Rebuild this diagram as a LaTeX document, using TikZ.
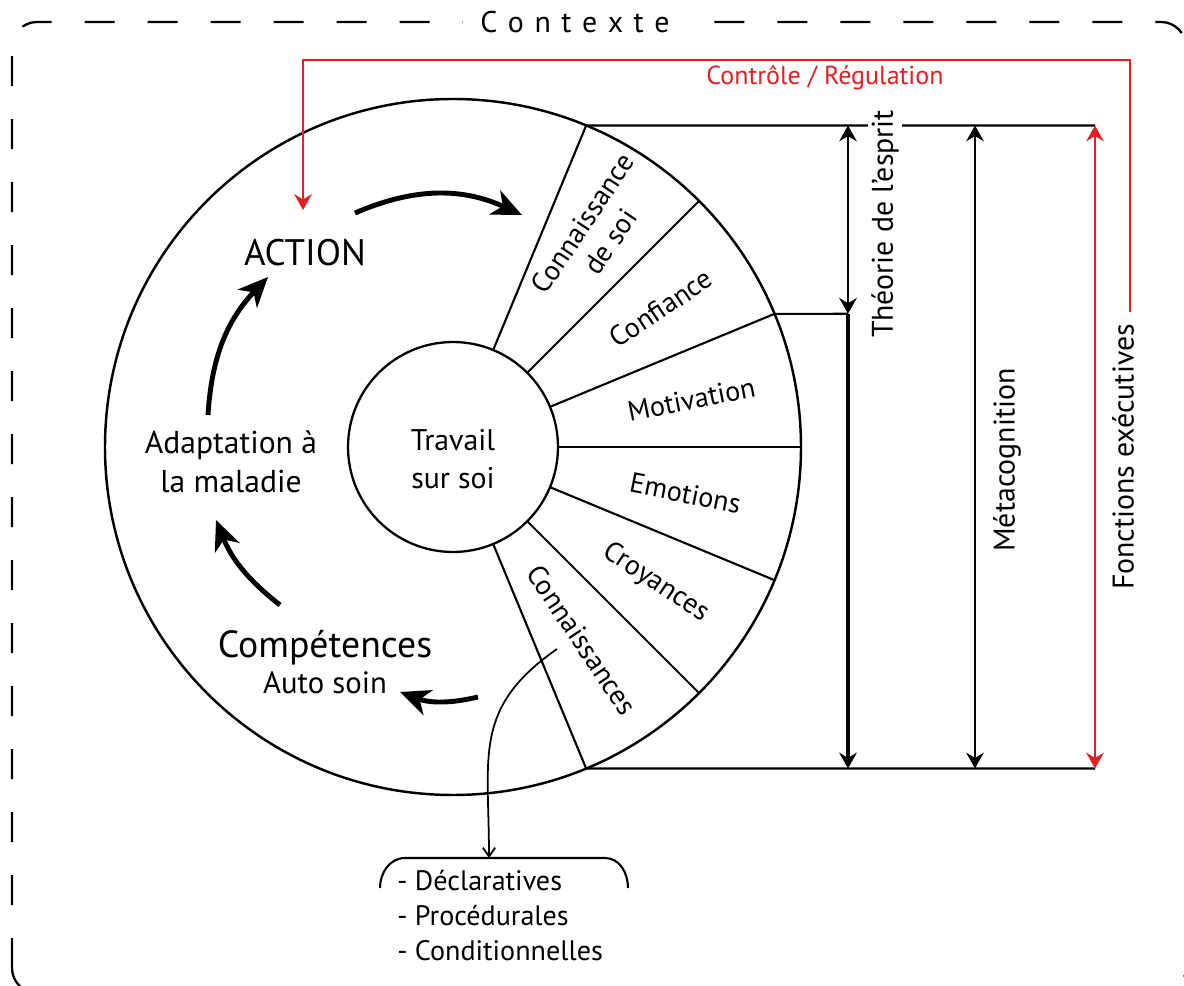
\documentclass[tikz,border=0pt]{standalone}
\usepackage{fontspec}
\setmainfont{PT Sans}
\usetikzlibrary{arrows.meta}
\definecolor{ctlred}{RGB}{227,30,36}

\begin{document}
\begin{tikzpicture}[x=0.02cm, y=0.02cm,
  main/.style = {draw, circle, fill=white, line width=1.3pt, minimum size=4.2cm, inner sep=0pt},
  part/.style = {draw, line width=1.2pt},
  seg/.style = {align=center, font=\fontsize{16}{19}\selectfont},
  side/.style = {rotate=90, fill=white, inner sep=2pt, font=\fontsize{17}{20}\selectfont},
  lbl/.style = {align=center, font=\fontsize{17}{21}\selectfont},
  loop/.style = {line width=2.8pt, -{Stealth[length=17pt,width=15pt,inset=5pt]}},
  both/.style = {line width=1.2pt, {Stealth[length=9pt,width=10pt,inset=3pt]}-{Stealth[length=9pt,width=10pt,inset=3pt]}},
  ctl/.style = {ctlred, line width=1.3pt}]

\useasboundingbox (0,0) rectangle (1184,985);

\draw[line width=1.3pt, dash pattern=on 0.6cm off 0.66cm, rounded corners=0.5cm] (12,-8) rectangle (1186,963);
\node[fill=white, inner xsep=10pt, font=\fontsize{17}{20}\selectfont] (ctx) at (575,963) {C\kern6pt o\kern6pt n\kern6pt t\kern6pt e\kern6pt x\kern6pt t\kern6pt e};

\coordinate (c) at (453,538);
\draw[part, line width=1.4pt] (c) circle (348);
\node[main] (t) at (c) {};
\node[lbl, font=\fontsize{17}{21.5}\selectfont] (trav) at (453,526) {Travail\\sur soi};
\foreach \a in {-67.5,-45,...,67.5}
  \draw[part] ([shift={(\a:105)}]c) -- ([shift={(\a:348)}]c);
\foreach \a/\r/\t [count=\i] in {56.25/258/{Connaissance\\de soi}, 33.75/250/Confiance, 11.25/243/Motivation, -11.25/237/Emotions, -33.75/244/Croyances, -56.25/232/Connaissances}
  \node[seg, rotate=\a] (s\i) at ([shift={(\a:\r)}]c) {\t};

\draw[part] ([shift={(67.5:348)}]c) -- (1095,859.5);
\draw[part] ([shift={(22.5:348)}]c) -- (848,671.2);
\draw[part] ([shift={(-67.5:348)}]c) -- (1095,216.5);
\draw[both] (848,859.5) -- (848,671.2);
\draw[line width=2.3pt, -{Stealth[length=9pt,width=10pt,inset=3pt]}] (848,671.2) -- (848,216.5);
\draw[both] (975,859.5) -- (975,216.5);
\draw[both, ctlred] (1095,859.5) -- (1095,216.5);

\node[side] (tom) at (885,761) {Théorie de l’esprit};
\node[side] (meta) at (1007,525) {Métacognition};
\node[side] (fe) at (1123,528) {Fonctions exécutives};

\node[lbl, font=\fontsize{21}{24}\selectfont] (action) at (305,732) {ACTION};
\node[lbl, font=\fontsize{18}{22}\selectfont] (adapt) at (231,523) {Adaptation à\\la maladie};
\node[lbl, font=\fontsize{21.5}{24}\selectfont] (comp) at (325,337) {Compétences};
\node[lbl, node distance={0.7cm}, font=\fontsize{17.5}{21}\selectfont] (auto) [below of=comp] {Auto soin};

\coordinate (r0) at (1130,673);
\node[ctlred, font=\fontsize{14.8}{17}\selectfont] (reg) at (825,907) {Contrôle / Régulation};
\draw[ctl, -{Stealth[length=9pt,width=10pt,inset=3pt]}] (r0) |- (303,925) -- ([shift={(-2,43)}]action.center);

\coordinate (a1) at (522,770);
\coordinate (a4) at (478,288);
\draw[loop] ([shift={(50,40)}]action.center) to[bend left=24] (a1);
\draw[loop] ([shift={(-23,47)}]adapt.center) to[bend left=20] ([shift={(-37,-24)}]action.center);
\draw[loop] ([shift={(-45,43)}]comp.center) to[bend left=15] ([shift={(-15,-58)}]adapt.center);
\draw[loop] (a4) to[bend left=17] ([shift={(75,-9)}]auto.center);

\node[seg, align=left, anchor=north west, inner sep=0pt, font=\fontsize{16}{19.8}\selectfont] (kinds) at (397,115) {- Déclaratives\\- Procédurales\\- Conditionnelles};
\draw[part] (380,97) to[out=90,in=180] (405,127) -- (605,127) to[out=0,in=90] (628,97);
\coordinate (kn) at (557,336);
\coordinate (brk) at (489,127);
\draw[line width=1pt, -{Straight Barb[length=5pt,width=7pt]}] (kn) to[out=215,in=90,looseness=1.2] (brk);
\end{tikzpicture}
\end{document}
